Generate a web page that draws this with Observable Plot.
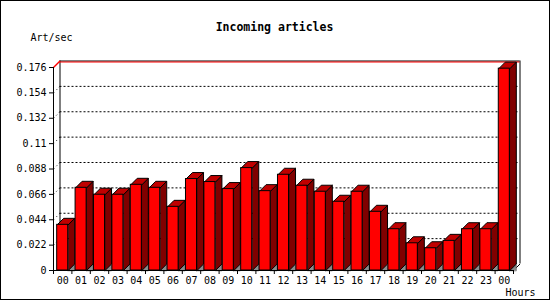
<!DOCTYPE html>
<html>
<head>
<meta charset="utf-8">
<script src="https://cdn.jsdelivr.net/npm/d3@7"></script>
<script src="https://cdn.jsdelivr.net/npm/@observablehq/plot@0.6"></script>
<style>
  html, body { margin: 0; padding: 0; background: #fff; }
  #chart svg { display: block; outline: 1px solid #000; outline-offset: -1px; }
</style>
</head>
<body>
<div id="chart"></div>
<script>
// ---- data ----
const hours = ["00","01","02","03","04","05","06","07","08","09","10","11",
               "12","13","14","15","16","17","18","19","20","21","22","23","00"];
const values = [0.0396, 0.0717, 0.0657, 0.0657, 0.0743, 0.0717, 0.0552, 0.0793,
                0.0767, 0.0706, 0.0888, 0.0688, 0.0830, 0.0735, 0.0683, 0.0596,
                0.0683, 0.0509, 0.0358, 0.0236, 0.0193, 0.0257, 0.0358, 0.0358, 0.1750];
const yTicks = [0, 0.022, 0.044, 0.066, 0.088, 0.11, 0.132, 0.154, 0.176];
const yTickLabels = ["0", "0.022", "0.044", "0.066", "0.088", "0.11", "0.132", "0.154", "0.176"];
const titleText = "Incoming articles";
const yTitle = "Art/sec";
const xTitle = "Hours";

// ---- layout ----
const W = 550, H = 300;
const mL = 53, mR = 37, mT = 67, mB = 30;
const n = hours.length;
const yMax = 0.176;
const depthPx = 6.5;
const dX = depthPx * n / (W - mL - mR);          // depth in x data units
const dY = depthPx * yMax / (H - mT - mB);       // depth in y data units

const bars = values.map((v, i) => ({i, v, x1: i + 0.2, x2: i + 0.8}));
const sidePts = bars.flatMap(b => [
  {k: b.i, x: b.x2, y: 0}, {k: b.i, x: b.x2 + dX, y: dY},
  {k: b.i, x: b.x2 + dX, y: b.v + dY}, {k: b.i, x: b.x2, y: b.v}
]);
const topPts = bars.flatMap(b => [
  {k: b.i, x: b.x1, y: b.v}, {k: b.i, x: b.x1 + dX, y: b.v + dY},
  {k: b.i, x: b.x2 + dX, y: b.v + dY}, {k: b.i, x: b.x2, y: b.v}
]);
const shadowPts = bars.flatMap(b => [
  {k: b.i, x: b.x2, y: 0}, {k: b.i, x: b.x2 + dX, y: dY}, {k: b.i, x: b.x2 + dX, y: 0}
]);

const font = "'DejaVu Sans Mono', 'Liberation Mono', monospace";

const chart = Plot.plot({
  width: W, height: H,
  marginLeft: mL, marginRight: mR, marginTop: mT, marginBottom: mB,
  style: {fontFamily: font, fontSize: "10px", color: "#000", background: "#fff"},
  x: {type: "linear", domain: [0, n], axis: null},
  y: {type: "linear", domain: [0, yMax], axis: null},
  marks: [
    // back wall gridlines (dotted)
    Plot.ruleY(yTicks.slice(1, -1), {x1: 0, x2: n, dx: depthPx, dy: -depthPx,
      stroke: "#000", strokeDasharray: "2,2", strokeWidth: 1}),
    // dotted connectors from front ticks to back gridlines
    Plot.link(yTicks.slice(1, -1), {x1: 0, y1: d => d, x2: dX, y2: d => d + dY,
      stroke: "#000", strokeDasharray: "1,3", strokeWidth: 1}),
    // back wall frame
    Plot.ruleX([0, n], {y1: 0, y2: yMax, dx: depthPx, dy: -depthPx, stroke: "#000", strokeWidth: 1}),
    Plot.ruleY([yMax], {x1: 0, x2: n, dx: depthPx, dy: -depthPx, stroke: "#000", strokeWidth: 1}),
    Plot.ruleY([yMax], {x1: 0, x2: n, dx: depthPx, dy: -depthPx + 1, stroke: "#ff0000", strokeWidth: 1}),
    Plot.link([yMax], {x1: 0, y1: d => d, x2: dX, y2: d => d + dY, stroke: "#ff0000", strokeWidth: 1.5}),
    Plot.link([0], {x1: n, y1: 0, x2: n + dX, y2: dY, stroke: "#000", strokeWidth: 1}),
    // bar shadows on the floor
    Plot.line(shadowPts, {x: "x", y: "y", z: "k", curve: "linear-closed",
      fill: "#8c8c8c", stroke: "#555", strokeWidth: 0.6}),
    // bar side faces
    Plot.line(sidePts, {x: "x", y: "y", z: "k", curve: "linear-closed",
      fill: "#800000", stroke: "#000", strokeWidth: 1}),
    // bar top faces
    Plot.line(topPts, {x: "x", y: "y", z: "k", curve: "linear-closed",
      fill: "#c00000", stroke: "#000", strokeWidth: 1}),
    // bar front faces
    Plot.rect(bars, {x1: "x1", x2: "x2", y1: 0, y2: "v", fill: "#ff0000", stroke: "#000", strokeWidth: 1}),
    // front axes lines
    Plot.ruleX([0], {y1: 0, y2: yMax, stroke: "#000", strokeWidth: 1}),
    Plot.ruleY([0], {x1: 0, x2: n, stroke: "#000", strokeWidth: 1}),
    // y axis
    Plot.axisY(yTicks, {tickSize: 4, tickPadding: 3, label: null, stroke: "#000",
      tickFormat: d => yTickLabels[yTicks.indexOf(d)], fill: "#000"}),
    // x axis ticks at band boundaries
    Plot.axisX(d3.range(n + 1), {tickSize: 4, tickFormat: () => "", label: null, stroke: "#000"}),
    // x labels centred in bands
    Plot.text(hours, {x: (d, i) => i + 0.5, y: () => 0, dy: 10, text: d => d, fill: "#000", lineAnchor: "middle"}),
    // titles
    Plot.text([titleText], {frameAnchor: "top", dx: -9, dy: -40, fontWeight: "bold",
      fontSize: 11.5, fill: "#000", lineAnchor: "middle"}),
    Plot.text([yTitle], {frameAnchor: "top-left", dx: -23, dy: -30, textAnchor: "start",
      fill: "#000", lineAnchor: "middle"}),
    Plot.text([xTitle], {frameAnchor: "bottom-right", dx: -8, dy: 22, textAnchor: "start",
      fill: "#000", lineAnchor: "middle"})
  ]
});
document.getElementById("chart").append(chart);
</script>
</body>
</html>
